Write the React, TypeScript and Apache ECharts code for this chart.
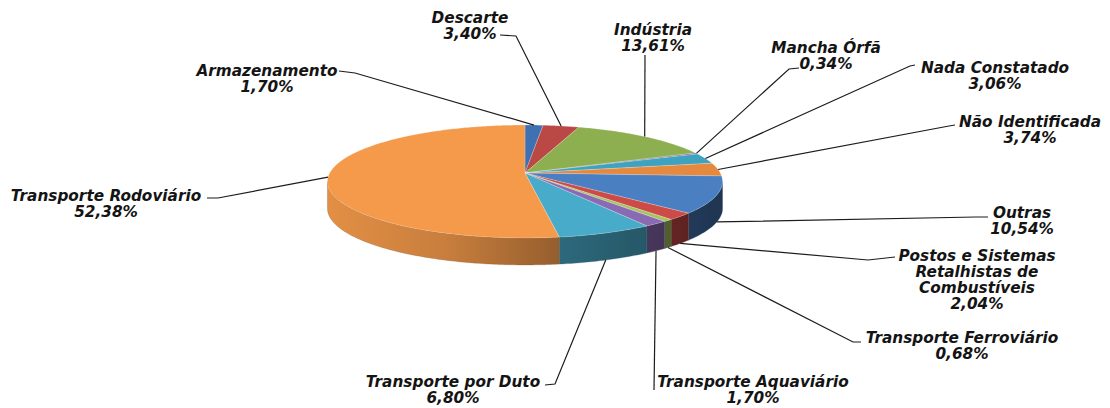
import React, { useEffect, useRef } from "react";
import * as echarts from "echarts";

// ---- Data ----
const categories: string[] = [
  "Armazenamento",
  "Descarte",
  "Indústria",
  "Mancha Órfã",
  "Nada Constatado",
  "Não Identificada",
  "Outras",
  "Postos e Sistemas\nRetalhistas de\nCombustíveis",
  "Transporte Ferroviário",
  "Transporte Aquaviário",
  "Transporte por Duto",
  "Transporte Rodoviário",
];
const shares: number[] = [1.7, 3.4, 13.61, 0.34, 3.06, 3.74, 10.54, 2.04, 0.68, 1.7, 6.8, 52.38];
const sliceColors: string[] = [
  "#3F70B2",
  "#BA4845",
  "#8DAF4F",
  "#7E60A0",
  "#3FA3BF",
  "#E5893E",
  "#4A7FC2",
  "#CC4B47",
  "#A6C460",
  "#8A6BB3",
  "#49ABCA",
  "#F49A4A",
];

// ---- Layout (label anchors / leader elbows) ----
type Lay = { tx: number; ty: number; start: number[]; elbow: number[] | null };
const labelLayout: Lay[] = [
  { tx: 267, ty: 71, start: [339, 71], elbow: [355, 73] },
  { tx: 470, ty: 18, start: [500, 35], elbow: [516, 36] },
  { tx: 653, ty: 30, start: [645, 55], elbow: null },
  { tx: 826, ty: 48, start: [799, 68], elbow: [789, 69] },
  { tx: 995, ty: 68, start: [915, 65], elbow: [910, 66] },
  { tx: 1030, ty: 122, start: [955, 125], elbow: [949, 126] },
  { tx: 1022, ty: 213, start: [988, 217], elbow: [976, 217] },
  { tx: 977, ty: 256, start: [895, 257], elbow: [868, 260] },
  { tx: 962, ty: 338, start: [861, 342], elbow: [853, 342] },
  { tx: 753, ty: 382, start: [654, 390], elbow: null },
  { tx: 453, ty: 382, start: [545, 385], elbow: [555, 384] },
  { tx: 106, ty: 196, start: [207, 198], elbow: [218, 198] },
];

// pie projection (perspective-tilted disc)
const CX = 525;
const CY = 173;
const AX = 195.3;
const BY = 55.2;
const PE = 0.15;
const DEPTH = 27;

function proj(t: number): number[] {
  const d = 1 + PE * Math.cos(t);
  return [CX + (AX * Math.sin(t)) / d, CY - (BY * Math.cos(t)) / d];
}

function shade(hex: string, f: number): string {
  const n = parseInt(hex.slice(1), 16);
  const r = Math.round(((n >> 16) & 255) * f);
  const g = Math.round(((n >> 8) & 255) * f);
  const b = Math.round((n & 255) * f);
  return `rgb(${r},${g},${b})`;
}

function fmt(v: number): string {
  return v.toFixed(2).replace(".", ",") + "%";
}

export default function App() {
  const ref = useRef<HTMLDivElement>(null);

  useEffect(() => {
    if (!ref.current) return;
    const chart = echarts.init(ref.current, null, { renderer: "svg" });
    const total = shares.reduce((a, b) => a + b, 0);
    const cum: number[] = [];
    let acc = 0;
    shares.forEach((v) => {
      cum.push(acc);
      acc += v;
    });
    const data = shares.map((v, i) => ({ name: categories[i], value: [v, cum[i]] }));
    const leftX = CX - AX / Math.sqrt(1 - PE * PE);
    const rightX = CX + AX / Math.sqrt(1 - PE * PE);

    chart.setOption({
      animation: false,
      backgroundColor: "#ffffff",
      series: [
        {
          type: "custom",
          coordinateSystem: "none",
          silent: true,
          data,
          renderItem: (params: any, api: any) => {
            const i = params.dataIndex;
            const v = api.value(0) as number;
            const s = api.value(1) as number;
            const t0 = (s / total) * Math.PI * 2;
            const t1 = ((s + v) / total) * Math.PI * 2;
            const color = sliceColors[i];
            const children: any[] = [];

            // side wall (front visible part)
            const vis0 = Math.acos(-PE);
            const vis1 = Math.PI * 2 - vis0;
            const a = Math.max(t0, vis0);
            const b = Math.min(t1, vis1);
            if (b > a) {
              const n = Math.max(2, Math.ceil((b - a) / (Math.PI / 240)));
              const topPts: number[][] = [];
              for (let k = 0; k <= n; k++) topPts.push(proj(a + ((b - a) * k) / n));
              const botPts = topPts.map((p) => [p[0], p[1] + DEPTH]).reverse();
              children.push({
                type: "polygon",
                z2: 1,
                shape: { points: topPts.concat(botPts) },
                style: {
                  fill: new echarts.graphic.LinearGradient(
                    leftX,
                    0,
                    rightX,
                    0,
                    [
                      { offset: 0, color: shade(color, 0.93) },
                      { offset: 0.3, color: shade(color, 0.82) },
                      { offset: 0.58, color: shade(color, 0.62) },
                      { offset: 1, color: shade(color, 0.42) },
                    ],
                    true
                  ),
                  stroke: shade(color, 0.55),
                  lineWidth: 0.3,
                },
              });
            }

            // top face
            const m = Math.max(2, Math.ceil((t1 - t0) / (Math.PI / 240)));
            const arc: number[][] = [];
            for (let k = 0; k <= m; k++) arc.push(proj(t0 + ((t1 - t0) * k) / m));
            children.push({
              type: "polygon",
              z2: 2,
              shape: { points: [[CX, CY]].concat(arc) },
              style: { fill: color, stroke: "rgba(255,255,255,0.35)", lineWidth: 0.6 },
            });

            // leader line
            const mid = (t0 + t1) / 2;
            const end = proj(mid);
            if (Math.cos(mid) < -0.3) end[1] += DEPTH;
            const lay = labelLayout[i];
            const pts = [lay.start];
            if (lay.elbow) pts.push(lay.elbow);
            pts.push(end);
            children.push({
              type: "polyline",
              z2: 5,
              shape: { points: pts },
              style: { stroke: "#1c1c1c", lineWidth: 1.2, fill: null },
            });

            // label
            const text = categories[i] + "\n" + fmt(v);
            const lines = text.split("\n").length;
            children.push({
              type: "text",
              z2: 6,
              style: {
                text,
                x: lay.tx,
                y: lay.ty + ((lines - 1) * 16) / 2,
                align: "center",
                verticalAlign: "middle",
                fontFamily: "DejaVu Sans",
                fontStyle: "italic",
                fontWeight: "bold",
                fontSize: 15.3,
                lineHeight: 16,
                fill: "#141414",
              },
            });

            return { type: "group", children };
          },
        },
      ],
    });

    return () => {
      chart.dispose();
    };
  }, []);

  return (
    <div
      ref={ref}
      style={{ position: "fixed", left: 0, top: 0, width: 1110, height: 408, background: "#fff" }}
    />
  );
}
